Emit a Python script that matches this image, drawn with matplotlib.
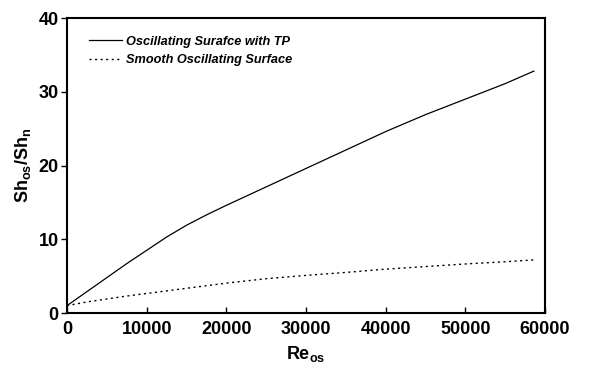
import numpy as np
import matplotlib
matplotlib.use('Agg')
import matplotlib.pyplot as plt

matplotlib.rcParams['font.family'] = ['Liberation Sans', 'DejaVu Sans']
matplotlib.rcParams['mathtext.default'] = 'regular'

# data
re_os = [0, 2500, 5000, 7500, 10000, 12500, 15000, 17500, 20000, 25000, 30000,
         35000, 40000, 45000, 50000, 55000, 58600]
sh_tp = [1.0, 2.9, 4.8, 6.7, 8.5, 10.3, 11.9, 13.3, 14.6, 17.1, 19.6,
         22.1, 24.6, 26.9, 29.0, 31.1, 32.8]
sh_smooth = [1.0, 1.5, 1.9, 2.3, 2.65, 3.0, 3.35, 3.7, 4.05, 4.65, 5.1,
             5.5, 5.95, 6.3, 6.65, 6.95, 7.2]

label_tp = 'Oscillating Surafce with TP'
label_smooth = 'Smooth Oscillating Surface'

fig = plt.figure(figsize=(6.11, 3.72), dpi=100)
ax = fig.add_axes([0.1097, 0.1586, 0.7823, 0.793])

ax.plot(re_os, sh_tp, color='black', lw=0.9, label=label_tp)
ax.plot(re_os, sh_smooth, color='black', lw=1.0, ls=(0, (1.5, 2.5)), label=label_smooth)

ax.set_xlim(0, 60000)
ax.set_ylim(0, 40)
ax.set_xticks(np.arange(0, 60001, 10000))
ax.set_yticks(np.arange(0, 41, 10))

for s in ax.spines.values():
    s.set_linewidth(1.5)

ax.tick_params(axis='x', direction='in', length=4, width=1, pad=6)
ax.tick_params(axis='y', direction='out', length=4, width=1, pad=2)
for lab in ax.get_xticklabels() + ax.get_yticklabels():
    lab.set_fontweight('bold')
    lab.set_fontsize(13)

ax.set_xlabel('Re$_{os}$', fontsize=13, fontweight='bold', labelpad=4)
ax.set_ylabel('Sh$_{os}$/Sh$_{n}$', fontsize=13, fontweight='bold', labelpad=4)

leg = ax.legend(loc='upper left', frameon=False, handlelength=2.6,
                prop={'size': 9.2, 'weight': 'bold', 'style': 'italic'},
                borderaxespad=1.0, labelspacing=0.5, handletextpad=0.3)
leg.set_bbox_to_anchor((0.008, 1.0), transform=ax.transAxes)

fig.savefig('out.png', dpi=100)
